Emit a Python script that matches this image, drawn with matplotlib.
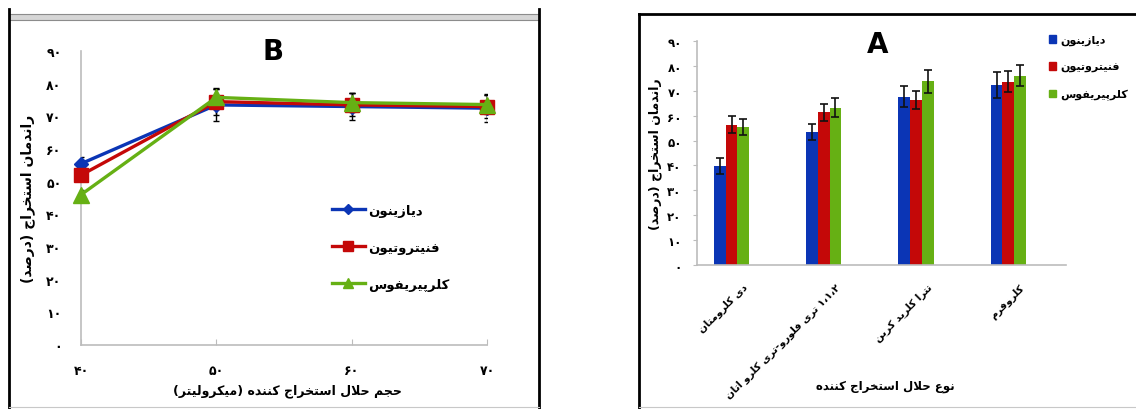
import re
import numpy as np
import matplotlib
matplotlib.use('Agg')
import matplotlib.pyplot as plt
from matplotlib.lines import Line2D
from matplotlib.patches import Rectangle
from matplotlib.transforms import ScaledTranslation

plt.rcParams['font.family'] = ['DejaVu Sans']
plt.rcParams['font.weight'] = 'bold'

# ---- data ----
pesticides = ['دیازینون', 'فنیتروتیون', 'کلرپیریفوس']
colors = ['#0b35b5', '#c40808', '#66b014']

# panel B: extraction solvent volume (microlitre)
volumes = [40, 50, 60, 70]
b_diazinon = [55.5, 73.5, 73.0, 72.5]
b_fenitrothion = [52.0, 74.5, 73.5, 73.0]
b_chlorpyrifos = [46.0, 75.8, 74.2, 73.6]
b_diazinon_err = [2.0, 4.8, 4.0, 4.3]
b_fenitrothion_err = [1.5, 4.0, 3.5, 3.5]
b_chlorpyrifos_err = [1.5, 3.0, 3.0, 3.0]

# panel A: extraction solvent type
solvents = ['دی کلرومتان', '۱،۱،۲ تری فلورو-تری کلرو اتان', 'تترا کلرید کربن', 'کلروفرم']
a_diazinon = [39.7, 53.4, 67.7, 72.4]
a_fenitrothion = [56.4, 61.4, 66.4, 73.8]
a_chlorpyrifos = [55.4, 63.3, 73.9, 76.2]
a_diazinon_err = [3.2, 3.3, 4.2, 5.1]
a_fenitrothion_err = [3.4, 3.4, 3.7, 4.3]
a_chlorpyrifos_err = [3.3, 3.9, 4.6, 4.3]

y_label = 'راندمان استخراج (درصد)'
b_xlabel = 'حجم حلال استخراج کننده (میکرولیتر)'
a_xlabel = 'نوع حلال استخراج کننده'

# ---- minimal persian shaping (isolated, final, initial, medial) ----
FORMS = {
    'ا': '\uFE8D\uFE8E', 'د': '\uFEA9\uFEAA', 'ر': '\uFEAD\uFEAE',
    'ز': '\uFEAF\uFEB0', 'و': '\uFEED\uFEEE',
    'ب': '\uFE8F\uFE90\uFE91\uFE92', 'پ': '\uFB56\uFB57\uFB58\uFB59',
    'ت': '\uFE95\uFE96\uFE97\uFE98', 'ج': '\uFE9D\uFE9E\uFE9F\uFEA0',
    'ح': '\uFEA1\uFEA2\uFEA3\uFEA4', 'خ': '\uFEA5\uFEA6\uFEA7\uFEA8',
    'س': '\uFEB1\uFEB2\uFEB3\uFEB4', 'ص': '\uFEB9\uFEBA\uFEBB\uFEBC',
    'ع': '\uFEC9\uFECA\uFECB\uFECC', 'ف': '\uFED1\uFED2\uFED3\uFED4',
    'ک': '\uFB8E\uFB8F\uFB90\uFB91', 'گ': '\uFB92\uFB93\uFB94\uFB95',
    'ل': '\uFEDD\uFEDE\uFEDF\uFEE0', 'م': '\uFEE1\uFEE2\uFEE3\uFEE4',
    'ن': '\uFEE5\uFEE6\uFEE7\uFEE8', 'ه': '\uFEE9\uFEEA\uFEEB\uFEEC',
    'ی': '\uFBFC\uFBFD\uFBFE\uFBFF',
}


def shape(text):
    out = []
    i = 0
    while i < len(text):
        c = text[i]
        if c not in FORMS:
            out.append(c)
            i += 1
            continue
        prev = text[i - 1] if i > 0 else ''
        nxt = text[i + 1] if i + 1 < len(text) else ''
        join_prev = prev in FORMS and len(FORMS[prev]) == 4
        if c == 'ل' and nxt == 'ا':
            out.append('\uFEFC' if join_prev else '\uFEFB')
            i += 2
            continue
        f = FORMS[c]
        join_next = len(f) == 4 and nxt in FORMS
        if join_prev and join_next:
            out.append(f[3])
        elif join_prev:
            out.append(f[1])
        elif join_next:
            out.append(f[2])
        else:
            out.append(f[0])
        i += 1
    return ''.join(out)


def fa(text):
    runs = re.findall(r'[۰-۹]+(?:[،.][۰-۹]+)*|.', shape(text))
    mirror = {'(': ')', ')': '('}
    return ''.join(mirror.get(r, r) for r in reversed(runs))


def fa_num(n):
    return str(n).translate(str.maketrans('0123456789', '۰۱۲۳۴۵۶۷۸۹'))


W, H = 1136, 410
fig = plt.figure(figsize=(W / 100, H / 100), dpi=100)


def fx(px):
    return px / W


def fy(py):
    return 1 - py / H


axis_grey = '#bcbcbc'
yticks = list(range(0, 91, 10))

# ---- panel B: line chart ----
axB = fig.add_axes([fx(81), fy(346), fx(487) - fx(81), fy(52) - fy(346)])
xpos = np.arange(len(volumes))
b_series = [(b_diazinon, b_diazinon_err, 'D', 7),
            (b_fenitrothion, b_fenitrothion_err, 's', 10),
            (b_chlorpyrifos, b_chlorpyrifos_err, '^', 11)]
handles = []
for (vals, err, mk, ms), col, name in zip(b_series, colors, pesticides):
    axB.errorbar(xpos, vals, yerr=err, fmt='none', ecolor='black',
                 elinewidth=1, capsize=2.5, capthick=1, zorder=2)
    axB.plot(xpos, vals, color=col, lw=2.4, marker=mk, ms=ms, zorder=3,
             clip_on=False)
    handles.append(Line2D([], [], color=col, lw=2.4, marker=mk, ms=ms * 0.7))

axB.set_xlim(0, 3)
axB.set_ylim(0, 90)
axB.set_yticks(yticks)
axB.set_yticklabels([fa_num(v) for v in yticks], fontsize=9)
axB.set_xticks(xpos)
axB.set_xticklabels([fa_num(v) for v in volumes], fontsize=9)
axB.tick_params(axis='y', length=0, pad=14)
axB.tick_params(axis='x', direction='in', length=4, color=axis_grey, pad=14)
for s in ['top', 'right']:
    axB.spines[s].set_visible(False)
for s in ['left', 'bottom']:
    axB.spines[s].set_color(axis_grey)
    axB.spines[s].set_linewidth(1.2)

axB.legend(handles, [fa(p) for p in pesticides], loc='upper left',
           bbox_to_anchor=(fx(332), fy(205)), bbox_transform=fig.transFigure,
           frameon=False, fontsize=9.5, handlelength=2.5, handletextpad=0.25,
           labelspacing=1.82, borderpad=0, borderaxespad=0)

fig.text(fx(273), fy(52), 'B', fontsize=20, weight='heavy', ha='center', va='center')
fig.text(fx(28), fy(199), fa(y_label), rotation=90, fontsize=10,
         ha='center', va='center')
fig.text(fx(287), fy(391), fa(b_xlabel), fontsize=9, ha='center', va='center')

# ---- panel A: grouped bars ----
axA = fig.add_axes([fx(697), fy(265.7), fx(1066) - fx(697), fy(42.3) - fy(265.7)])
cpos = np.arange(len(solvents))
bw = 0.127
a_series = [(a_diazinon, a_diazinon_err), (a_fenitrothion, a_fenitrothion_err),
            (a_chlorpyrifos, a_chlorpyrifos_err)]
bar_handles = []
for k, ((vals, err), col) in enumerate(zip(a_series, colors)):
    axA.bar(cpos + (k - 1) * bw, vals, width=bw, color=col, zorder=2)
    axA.errorbar(cpos + (k - 1) * bw, vals, yerr=err, fmt='none', ecolor='#111111',
                 elinewidth=1.2, capsize=3, capthick=1.2, zorder=3)
    bar_handles.append(Rectangle((0, 0), 1, 1, color=col))

axA.set_xlim(-0.374, 3.626)
axA.set_ylim(0, 90)
axA.set_yticks(yticks)
axA.set_yticklabels([fa_num(v) for v in yticks], fontsize=8.5)
axA.tick_params(axis='y', length=3, color=axis_grey, pad=8)
axA.set_xticks(cpos)
axA.set_xticklabels([fa(s) for s in solvents], rotation=45, ha='right',
                    rotation_mode='anchor', fontsize=7.4)
axA.tick_params(axis='x', length=0, pad=12)
shift = ScaledTranslation(11 / 100, 0, fig.dpi_scale_trans)
for lbl in axA.get_xticklabels():
    lbl.set_transform(lbl.get_transform() + shift)
for s in ['top', 'right']:
    axA.spines[s].set_visible(False)
for s in ['left', 'bottom']:
    axA.spines[s].set_color(axis_grey)
    axA.spines[s].set_linewidth(1.2)

axA.legend(bar_handles, [fa(p) for p in pesticides], loc='upper left',
           bbox_to_anchor=(fx(1049), fy(36)), bbox_transform=fig.transFigure,
           frameon=False, fontsize=8, handlelength=0.65, handleheight=0.65,
           handletextpad=0.35, labelspacing=1.5, borderpad=0, borderaxespad=0)

fig.text(fx(878), fy(45), 'A', fontsize=20, weight='heavy', ha='center', va='center')
fig.text(fx(655), fy(154), fa(y_label), rotation=90, fontsize=9,
         ha='center', va='center')
fig.text(fx(885), fy(387), fa(a_xlabel), fontsize=8.5, ha='center', va='center')

# ---- panel borders ----
black = dict(color='black', lw=2, transform=fig.transFigure)
fig.add_artist(Line2D([fx(9), fx(9)], [fy(10), 0], **black))
fig.add_artist(Line2D([fx(539), fx(539)], [fy(10), 0], **black))
fig.add_artist(Rectangle((fx(9), fy(21)), fx(539) - fx(9), fy(15) - fy(21),
                         facecolor='#d6d6d6', edgecolor='#8c8c8c', lw=0.8,
                         transform=fig.transFigure))
fig.add_artist(Line2D([fx(9), fx(539)], [fy(408), fy(408)], color='#c8c8c8',
                      lw=0.8, transform=fig.transFigure))
fig.add_artist(Line2D([fx(639), 1], [fy(15), fy(15)], **black))
fig.add_artist(Line2D([fx(639), fx(639)], [fy(15), 0], **black))
fig.add_artist(Line2D([fx(639), 1], [fy(408), fy(408)], color='#c8c8c8',
                      lw=0.8, transform=fig.transFigure))

fig.savefig('out.png', dpi=100)
